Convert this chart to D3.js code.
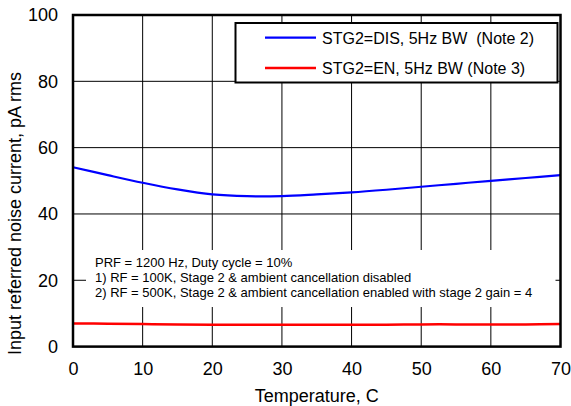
<!DOCTYPE html>
<html><head><meta charset="utf-8">
<script src="https://cdn.jsdelivr.net/npm/d3@7"></script>
<style>body{margin:0;background:#fff}text{font-family:"Liberation Sans",Arial,sans-serif;white-space:pre}</style>
</head><body><svg id="c" width="571" height="406"></svg>
<script>
const temps = [0,5,10,15,20,25,30,35,40,45,50,55,60,65,70];
const stgDis = [54.1,51.7,49.4,47.4,45.9,45.35,45.4,45.9,46.5,47.3,48.2,49.1,50.0,50.85,51.7];
const stgEn  = [7.0,6.9,6.8,6.7,6.6,6.6,6.6,6.6,6.6,6.6,6.7,6.7,6.7,6.7,6.8];
const xTicks = [0,10,20,30,40,50,60,70];
const yTicks = [0,20,40,60,80,100];
const seriesNames = ["STG2=DIS, 5Hz BW  (Note 2)","STG2=EN, 5Hz BW (Note 3)"];
const seriesColors = ["#0000ff","#ff0000"];
const notes = ["PRF = 1200 Hz, Duty cycle = 10%","1) RF = 100K, Stage 2 & ambient cancellation disabled","2) RF = 500K, Stage 2 & ambient cancellation enabled with stage 2 gain = 4"];

const svg = d3.select("#c");
const L=73,R=560.5,T=15,B=346.6;
const x = d3.scaleLinear().domain([0,70]).range([L,R]);
const y = d3.scaleLinear().domain([0,100]).range([B,T]);

// grid
const g = svg.append("g");
g.selectAll(".vx").data(xTicks).join("line").attr("x1",d=>x(d)).attr("x2",d=>x(d)).attr("y1",T).attr("y2",B).attr("stroke","#000").attr("stroke-width",1);
g.selectAll(".hy").data(yTicks).join("line").attr("x1",L).attr("x2",R).attr("y1",d=>y(d)).attr("y2",d=>y(d)).attr("stroke","#000").attr("stroke-width",1);

// annotation box
svg.append("rect").attr("x",86).attr("y",250).attr("width",469.5).attr("height",57).attr("fill","#fff");
svg.append("g").selectAll("text").data(notes).join("text")
  .attr("x",95).attr("y",(d,i)=>266.5+i*15).attr("font-size",13).text(d=>d);

// lines
const line = d3.line().x((d,i)=>x(temps[i])).y(d=>y(d)).curve(d3.curveCatmullRom);
svg.append("path").attr("d",line(stgEn)).attr("fill","none").attr("stroke",seriesColors[1]).attr("stroke-width",2.5);
svg.append("path").attr("d",line(stgDis)).attr("fill","none").attr("stroke",seriesColors[0]).attr("stroke-width",2.2);

// frame
svg.append("rect").attr("x",L).attr("y",T).attr("width",R-L).attr("height",B-T).attr("fill","none").attr("stroke","#000").attr("stroke-width",2.5);

// axes labels
const xa = svg.append("g").attr("transform",`translate(0,${B})`).call(d3.axisBottom(x).tickValues(xTicks).tickSize(0).tickPadding(16));
xa.select(".domain").remove();
xa.selectAll("text").attr("font-size",18).attr("fill","#000").attr("font-family","Liberation Sans, Arial, sans-serif");
const ya = svg.append("g").attr("transform",`translate(${L},0)`).call(d3.axisLeft(y).tickValues(yTicks).tickSize(0).tickPadding(15));
ya.select(".domain").remove();
ya.selectAll("text").attr("font-size",18).attr("fill","#000").attr("font-family","Liberation Sans, Arial, sans-serif");

svg.append("text").attr("x",(L+R)/2).attr("y",402).attr("text-anchor","middle").attr("font-size",18).text("Temperature, C");
svg.append("text").attr("transform","translate(21,213.5) rotate(-90)").attr("text-anchor","middle").attr("font-size",18).text("Input referred noise current, pA rms");

// legend
const lg = svg.append("g");
lg.append("rect").attr("x",235.5).attr("y",23).attr("width",322).attr("height",59.5).attr("fill","#fff").attr("stroke","#000").attr("stroke-width",2);
seriesNames.forEach((n,i)=>{
  const yy = 37.7 + i*30.3;
  lg.append("line").attr("x1",265).attr("x2",316).attr("y1",yy).attr("y2",yy).attr("stroke",seriesColors[i]).attr("stroke-width",i?2.5:2.2);
  lg.append("text").attr("x",322).attr("y",yy+5.8).attr("font-size",16).text(n);
});
</script></body></html>
